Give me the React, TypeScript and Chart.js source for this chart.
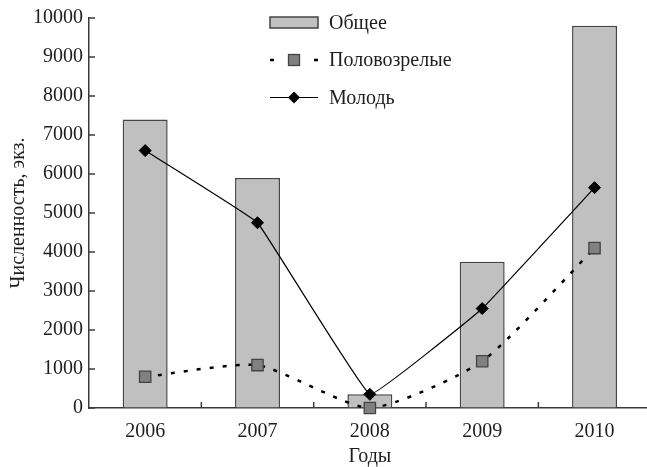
import { useEffect, useRef } from 'react';
import { Chart, registerables } from 'chart.js';

Chart.register(...registerables);

const years = ['2006', '2007', '2008', '2009', '2010'];
const totalCounts = [7400, 5900, 350, 3750, 9800];
const matureCounts = [800, 1100, 0, 1200, 4100];
const juvenileCounts = [6600, 4750, 350, 2550, 5650];
const seriesLabels = ['Общее', 'Половозрелые', 'Молодь'];
const yMin = 0;
const yMax = 10000;
const yStep = 1000;
const yTitle = 'Численность, экз.';
const xTitle = 'Годы';

const FONT = "'Liberation Serif', 'Times New Roman', serif";
const AXIS = '#3a3a3a';
const TEXT = '#1e1e1e';
const BAR_FILL = '#c0c0c0';
const BAR_EDGE = '#444444';
const SQUARE_FILL = '#808080';

const decorPlugin = {
  id: 'decor',
  afterDraw(chart: any) {
    const ctx = chart.ctx as CanvasRenderingContext2D;
    const xs = chart.scales.x;
    const ys = chart.scales.y;
    const area = chart.chartArea;
    ctx.save();
    // inward ticks
    ctx.strokeStyle = AXIS;
    ctx.lineWidth = 1.5;
    ys.ticks.forEach((t: any) => {
      const py = ys.getPixelForValue(t.value);
      ctx.beginPath();
      ctx.moveTo(area.left, py);
      ctx.lineTo(area.left + 6, py);
      ctx.stroke();
    });
    for (let i = 1; i < years.length; i++) {
      const px = (xs.getPixelForValue(i - 1) + xs.getPixelForValue(i)) / 2;
      ctx.beginPath();
      ctx.moveTo(px, area.bottom);
      ctx.lineTo(px, area.bottom - 6);
      ctx.stroke();
    }
    // legend
    const sx0 = 270;
    const sx1 = 318;
    const sxm = (sx0 + sx1) / 2;
    const tx = 329;
    const rows = [22.5, 60, 97.5];
    ctx.font = `20px ${FONT}`;
    ctx.textBaseline = 'middle';
    ctx.textAlign = 'left';
    // row 0: bar
    ctx.fillStyle = BAR_FILL;
    ctx.fillRect(sx0, rows[0] - 5.5, sx1 - sx0, 11);
    ctx.strokeStyle = BAR_EDGE;
    ctx.lineWidth = 1.5;
    ctx.strokeRect(sx0, rows[0] - 5.5, sx1 - sx0, 11);
    // row 1: dashed + square
    ctx.strokeStyle = '#000';
    ctx.lineWidth = 2.5;
    ctx.beginPath();
    ctx.moveTo(sx0, rows[1]);
    ctx.lineTo(sx0 + 4, rows[1]);
    ctx.moveTo(sx1 - 4, rows[1]);
    ctx.lineTo(sx1, rows[1]);
    ctx.stroke();
    ctx.fillStyle = SQUARE_FILL;
    ctx.fillRect(sxm - 5.5, rows[1] - 5.5, 11, 11);
    ctx.strokeStyle = BAR_EDGE;
    ctx.lineWidth = 1.3;
    ctx.strokeRect(sxm - 5.5, rows[1] - 5.5, 11, 11);
    // row 2: solid + diamond
    ctx.strokeStyle = '#000';
    ctx.lineWidth = 1.2;
    ctx.beginPath();
    ctx.moveTo(sx0, rows[2]);
    ctx.lineTo(sx1, rows[2]);
    ctx.stroke();
    ctx.fillStyle = '#000';
    ctx.beginPath();
    ctx.moveTo(sxm - 6, rows[2]);
    ctx.lineTo(sxm, rows[2] - 6);
    ctx.lineTo(sxm + 6, rows[2]);
    ctx.lineTo(sxm, rows[2] + 6);
    ctx.closePath();
    ctx.fill();
    // labels
    ctx.fillStyle = TEXT;
    seriesLabels.forEach((lab, i) => {
      ctx.fillText(lab, tx, rows[i] + 1);
    });
    ctx.restore();
  },
};

export default function App() {
  const ref = useRef<HTMLCanvasElement | null>(null);

  useEffect(() => {
    if (!ref.current) return;
    const chart = new Chart(ref.current, {
      type: 'bar',
      data: {
        labels: years,
        datasets: [
          {
            type: 'bar',
            label: seriesLabels[0],
            data: totalCounts,
            backgroundColor: BAR_FILL,
            borderColor: BAR_EDGE,
            borderWidth: 1.5,
            barPercentage: 0.4,
            categoryPercentage: 1,
            order: 3,
          },
          {
            type: 'line',
            label: seriesLabels[1],
            data: matureCounts,
            borderColor: '#000',
            borderWidth: 2.5,
            borderDash: [4, 9],
            tension: 0.2,
            pointStyle: 'rect',
            pointRadius: 8,
            pointBackgroundColor: SQUARE_FILL,
            pointBorderColor: BAR_EDGE,
            pointBorderWidth: 1.3,
            clip: false,
            order: 2,
          } as any,
          {
            type: 'line',
            label: seriesLabels[2],
            data: juvenileCounts,
            borderColor: '#000',
            borderWidth: 1.2,
            tension: 0.06,
            pointStyle: 'rectRot',
            pointRadius: 6,
            pointBackgroundColor: '#000',
            pointBorderColor: '#000',
            pointBorderWidth: 1,
            clip: false,
            order: 1,
          } as any,
        ],
      },
      options: {
        responsive: false,
        animation: false,
        devicePixelRatio: window.devicePixelRatio || 1,
        layout: { padding: { top: 14, right: 8.5, bottom: 0, left: 0 } },
        plugins: {
          legend: { display: false },
          tooltip: { enabled: false },
        },
        scales: {
          x: {
            offset: true,
            grid: { display: true, drawOnChartArea: false, drawTicks: false },
            border: { display: true, color: AXIS, width: 1.5 },
            ticks: { color: TEXT, font: { family: FONT, size: 20 }, padding: 12, maxRotation: 0 },
            title: { display: true, text: xTitle, color: TEXT, font: { family: FONT, size: 20 }, padding: { top: 0, bottom: -2 } },
            afterFit: (s: any) => { s.height = 59; },
          },
          y: {
            min: yMin,
            max: yMax,
            grid: { display: true, drawOnChartArea: false, drawTicks: false },
            border: { display: true, color: AXIS, width: 1.5 },
            ticks: {
              stepSize: yStep,
              color: TEXT,
              font: { family: FONT, size: 20 },
              padding: 6,
              callback: (v: any) => String(v),
            },
            title: {
              display: true,
              text: yTitle,
              color: TEXT,
              font: { family: FONT, size: 20 },
              padding: { top: 7, bottom: 0 },
            },
            afterFit: (s: any) => { s.width = 89; },
          },
        },
      },
      plugins: [decorPlugin],
    });
    return () => chart.destroy();
  }, []);

  return (
    <div style={{ position: 'fixed', left: 0, top: 0, width: 647, height: 467, overflow: 'hidden', background: '#fff' }}>
      <canvas ref={ref} width={660} height={467} style={{ width: 660, height: 467, display: 'block' }} />
    </div>
  );
}
